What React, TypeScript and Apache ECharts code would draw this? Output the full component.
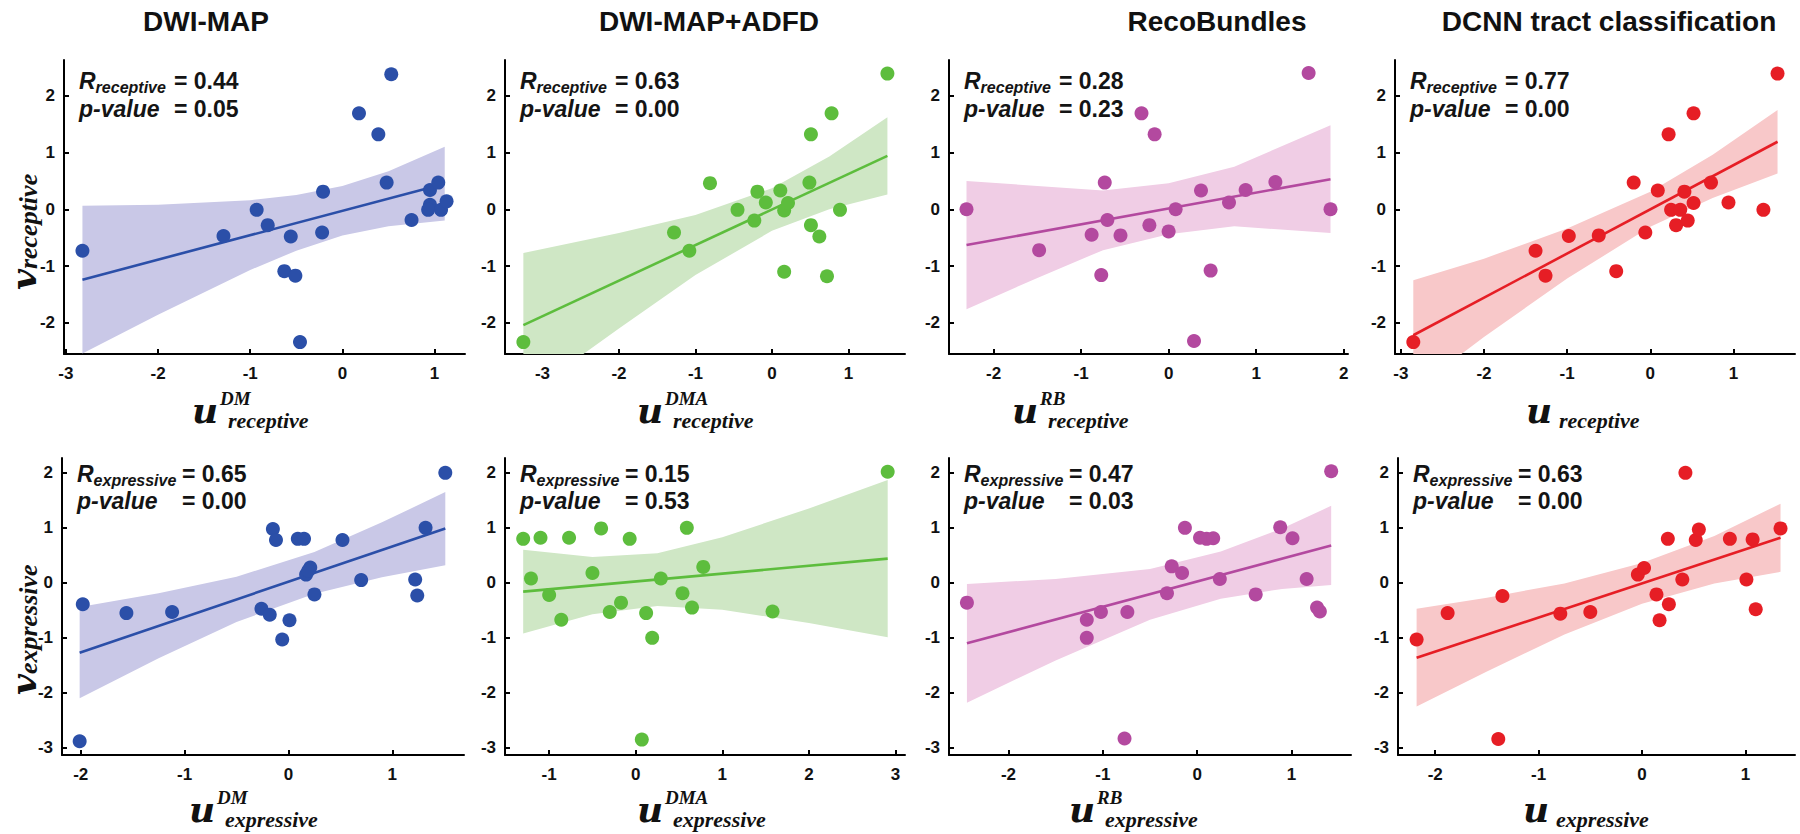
import React, { useEffect, useRef } from "react";
import * as echarts from "echarts";

const SANS = '"Liberation Sans", Arial, Helvetica, sans-serif';
const SERIF = '"Liberation Serif", "Times New Roman", serif';
const MATH = '"DejaVu Serif", "Liberation Serif", serif';

// ---------- text content ----------
const columnTitles = ["DWI-MAP", "DWI-MAP+ADFD", "RecoBundles", "DCNN tract classification"];
const methodSup = ["DM", "DMA", "RB", ""];
const rReceptive = ["0.44", "0.63", "0.28", "0.77"];
const pReceptive = ["0.05", "0.00", "0.23", "0.00"];
const rExpressive = ["0.65", "0.15", "0.47", "0.63"];
const pExpressive = ["0.00", "0.53", "0.03", "0.00"];

// ---------- colours ----------
const pointColors = ["#2b4fa8", "#5dbd3d", "#b3499f", "#e61e25"];
const bandColors = ["#c9c8e7", "#cfe7c5", "#f0cde5", "#f8c8c9"];

// ---------- tick values ----------
const recYTicks = [-2, -1, 0, 1, 2];
const expYTicks = [-3, -2, -1, 0, 1, 2];
const xTicks = [
  [-3, -2, -1, 0, 1],
  [-3, -2, -1, 0, 1],
  [-2, -1, 0, 1, 2],
  [-3, -2, -1, 0, 1],
  [-2, -1, 0, 1],
  [-1, 0, 1, 2, 3],
  [-2, -1, 0, 1],
  [-2, -1, 0, 1],
];

// ---------- scatter points [u, v] ----------
const recDM = [
  [-2.82, -0.73], [-1.29, -0.47], [-0.93, -0.01], [-0.81, -0.28], [-0.56, -0.48], [-0.63, -1.09],
  [-0.51, -1.17], [-0.46, -2.34], [-0.21, 0.31], [-0.22, -0.41], [0.18, 1.69], [0.39, 1.32],
  [0.53, 2.38], [0.48, 0.47], [0.75, -0.19], [0.95, 0.34], [1.04, 0.47], [0.95, 0.08],
  [0.93, -0.01], [1.07, -0.01], [1.13, 0.14],
];
const recDMA = [
  [-3.25, -2.34], [-1.28, -0.41], [-1.08, -0.73], [-0.81, 0.46], [-0.45, -0.01], [-0.23, -0.2],
  [-0.19, 0.31], [-0.08, 0.12], [0.11, 0.33], [0.16, -0.02], [0.21, 0.11], [0.16, -1.1],
  [0.49, 0.47], [0.51, 1.32], [0.51, -0.28], [0.62, -0.48], [0.72, -1.18], [0.78, 1.69],
  [0.89, -0.01], [1.51, 2.39],
];
const recRB = [
  [-2.31, 0.0], [-1.48, -0.72], [-0.88, -0.45], [-0.77, -1.16], [-0.73, 0.47], [-0.7, -0.19],
  [-0.55, -0.46], [-0.31, 1.69], [-0.22, -0.28], [-0.16, 1.32], [0.0, -0.39], [0.08, 0.0],
  [0.29, -2.32], [0.37, 0.33], [0.48, -1.08], [0.69, 0.12], [0.88, 0.34], [1.22, 0.48],
  [1.6, 2.4], [1.85, 0.0],
];
const recDCNN = [
  [-2.85, -2.34], [-1.38, -0.73], [-1.26, -1.17], [-0.98, -0.47], [-0.62, -0.46], [-0.41, -1.09],
  [-0.2, 0.47], [-0.06, -0.41], [0.09, 0.33], [0.22, 1.32], [0.25, -0.01], [0.31, -0.28],
  [0.36, -0.01], [0.41, 0.31], [0.45, -0.2], [0.52, 0.11], [0.52, 1.69], [0.73, 0.47],
  [0.94, 0.12], [1.36, -0.01], [1.53, 2.39],
];
const expDM = [
  [-1.98, -0.39], [-2.01, -2.88], [-1.56, -0.55], [-1.12, -0.53], [-0.26, -0.47], [-0.18, -0.58],
  [-0.15, 0.98], [-0.12, 0.78], [-0.06, -1.03], [0.01, -0.68], [0.09, 0.8], [0.15, 0.8],
  [0.17, 0.15], [0.21, 0.28], [0.19, 0.22], [0.25, -0.21], [0.52, 0.78], [0.7, 0.05],
  [1.22, 0.06], [1.24, -0.23], [1.32, 1.0], [1.51, 2.0],
];
const expDMA = [
  [-1.3, 0.8], [-1.21, 0.08], [-1.1, 0.82], [-1.0, -0.22], [-0.86, -0.67], [-0.77, 0.82],
  [-0.5, 0.18], [-0.4, 0.99], [-0.3, -0.53], [-0.17, -0.36], [-0.07, 0.8], [0.07, -2.85],
  [0.12, -0.55], [0.19, -1.0], [0.29, 0.08], [0.54, -0.19], [0.59, 1.0], [0.65, -0.45],
  [0.78, 0.29], [1.58, -0.52], [2.91, 2.02],
];
const expRB = [
  [-2.44, -0.36], [-1.17, -0.67], [-1.17, -1.0], [-1.02, -0.53], [-0.74, -0.53], [-0.77, -2.83],
  [-0.32, -0.19], [-0.27, 0.3], [-0.16, 0.18], [-0.13, 1.0], [0.03, 0.82], [0.1, 0.8],
  [0.17, 0.81], [0.24, 0.07], [0.62, -0.21], [0.88, 1.01], [1.01, 0.81], [1.16, 0.07],
  [1.27, -0.45], [1.3, -0.52], [1.42, 2.03],
];
const expDCNN = [
  [-2.18, -1.03], [-1.88, -0.55], [-1.35, -0.24], [-1.39, -2.84], [-0.79, -0.56], [-0.5, -0.53],
  [-0.04, 0.15], [0.02, 0.27], [0.14, -0.21], [0.17, -0.68], [0.25, 0.8], [0.26, -0.39],
  [0.39, 0.06], [0.42, 2.0], [0.52, 0.78], [0.55, 0.97], [0.85, 0.8], [1.01, 0.06],
  [1.07, 0.79], [1.1, -0.48], [1.34, 0.99],
];

// ---------- fitted lines (end points) ----------
const lineRecDM = [[-2.82, -1.24], [1.11, 0.45]];
const lineRecDMA = [[-3.25, -2.04], [1.51, 0.94]];
const lineRecRB = [[-2.31, -0.63], [1.85, 0.53]];
const lineRecDCNN = [[-2.85, -2.22], [1.53, 1.19]];
const lineExpDM = [[-2.01, -1.27], [1.51, 0.99]];
const lineExpDMA = [[-1.3, -0.16], [2.91, 0.44]];
const lineExpRB = [[-2.44, -1.1], [1.42, 0.68]];
const lineExpDCNN = [[-2.18, -1.36], [1.34, 0.82]];

// ---------- confidence bands (u, upper, lower) ----------
const bandRecDMx = [-2.82, -2, -1, -0.5, 0, 0.5, 1.11];
const bandRecDMup = [0.06, 0.08, 0.16, 0.25, 0.41, 0.67, 1.1];
const bandRecDMlo = [-2.54, -1.86, -1.07, -0.73, -0.46, -0.3, -0.2];
const bandRecDMAx = [-3.25, -2, -1, 0, 0.75, 1.51];
const bandRecDMAup = [-0.77, -0.42, -0.1, 0.37, 0.93, 1.62];
const bandRecDMAlo = [-3.31, -2.1, -1.16, -0.38, 0.0, 0.26];
const bandRecRBx = [-2.31, -1.5, -0.75, 0, 0.75, 1.85];
const bandRecRBup = [0.5, 0.41, 0.33, 0.46, 0.75, 1.48];
const bandRecRBlo = [-1.76, -1.21, -0.72, -0.44, -0.3, -0.42];
const bandRecDCNNx = [-2.85, -2, -1, 0, 0.75, 1.53];
const bandRecDCNNup = [-1.25, -0.87, -0.34, 0.31, 0.96, 1.75];
const bandRecDCNNlo = [-3.19, -2.25, -1.22, -0.31, 0.2, 0.63];
const bandExpDMx = [-2.01, -1.25, -0.5, 0.25, 0.9, 1.51];
const bandExpDMup = [-0.44, -0.19, 0.11, 0.56, 1.1, 1.65];
const bandExpDMlo = [-2.1, -1.37, -0.71, -0.2, 0.1, 0.32];
const bandExpDMAx = [-1.3, -0.5, 0.25, 1.0, 2.0, 2.91];
const bandExpDMAup = [0.6, 0.47, 0.54, 0.83, 1.35, 1.87];
const bandExpDMAlo = [-0.92, -0.57, -0.42, -0.49, -0.73, -0.99];
const bandExpRBx = [-2.44, -1.5, -0.5, 0.25, 0.9, 1.42];
const bandExpRBup = [-0.02, 0.07, 0.25, 0.57, 0.99, 1.4];
const bandExpRBlo = [-2.18, -1.41, -0.67, -0.29, -0.11, -0.04];
const bandExpDCNNx = [-2.18, -1.5, -0.75, 0, 0.7, 1.34];
const bandExpDCNNup = [-0.47, -0.27, -0.01, 0.36, 0.85, 1.44];
const bandExpDCNNlo = [-2.25, -1.61, -0.94, -0.38, -0.01, 0.2];

// ---------- axis extents ----------
const xMin = [-3.02, -3.49, -2.51, -3.07, -2.18, -1.51, -2.63, -2.36];
const xMax = [1.33, 1.74, 2.05, 1.74, 1.69, 3.11, 1.63, 1.48];
const rowYMin = [-2.55, -3.13];
const rowYMax = [2.63, 2.27];

// ---------- layout ----------
const gridLeft = [64, 505, 949, 1395, 62, 505, 949, 1398];
const gridWidth = [401, 400, 399, 400, 402, 400, 402, 397];
const rowTop = [60, 458];
const rowHeight = [294, 297];
const titleCenters = [206, 709, 1217, 1609];
const uLeft = [192, 637, 1012, 1526, 189, 637, 1069, 1523];

const panelPoints = [recDM, recDMA, recRB, recDCNN, expDM, expDMA, expRB, expDCNN];
const panelLines = [lineRecDM, lineRecDMA, lineRecRB, lineRecDCNN, lineExpDM, lineExpDMA, lineExpRB, lineExpDCNN];
const panelBands = [
  [bandRecDMx, bandRecDMup, bandRecDMlo],
  [bandRecDMAx, bandRecDMAup, bandRecDMAlo],
  [bandRecRBx, bandRecRBup, bandRecRBlo],
  [bandRecDCNNx, bandRecDCNNup, bandRecDCNNlo],
  [bandExpDMx, bandExpDMup, bandExpDMlo],
  [bandExpDMAx, bandExpDMAup, bandExpDMAlo],
  [bandExpRBx, bandExpRBup, bandExpRBlo],
  [bandExpDCNNx, bandExpDCNNup, bandExpDCNNlo],
];

function buildOption() {
  const grid: any[] = [];
  const xAxis: any[] = [];
  const yAxis: any[] = [];
  const series: any[] = [];
  const graphic: any[] = [];
  const labelStyle = { color: "#111", fontSize: 17, fontWeight: "bold", fontFamily: SANS };

  for (let i = 0; i < 8; i++) {
    const row = i < 4 ? 0 : 1;
    const col = i % 4;
    grid.push({
      left: gridLeft[i],
      top: rowTop[row],
      width: gridWidth[i],
      height: rowHeight[row],
      outerBoundsMode: "none",
      containLabel: false,
    });
    xAxis.push({
      type: "value",
      gridIndex: i,
      min: xMin[i],
      max: xMax[i],
      splitLine: { show: false },
      axisLine: { show: true, onZero: false, lineStyle: { color: "#000", width: 2 } },
      axisTick: { show: true, inside: true, length: 5, lineStyle: { color: "#000", width: 2 }, customValues: xTicks[i] },
      axisLabel: { ...labelStyle, margin: 11, customValues: xTicks[i] },
    });
    const yt = row === 0 ? recYTicks : expYTicks;
    yAxis.push({
      type: "value",
      gridIndex: i,
      min: rowYMin[row],
      max: rowYMax[row],
      splitLine: { show: false },
      axisLine: { show: true, onZero: false, lineStyle: { color: "#000", width: 2 } },
      axisTick: { show: true, inside: true, length: 5, lineStyle: { color: "#000", width: 2 }, customValues: yt },
      axisLabel: { ...labelStyle, margin: 9, customValues: yt },
    });

    const [bx, bup, blo] = panelBands[i];
    const fill = bandColors[col];
    series.push({
      type: "custom",
      xAxisIndex: i,
      yAxisIndex: i,
      clip: true,
      silent: true,
      z: 1,
      data: bx.map((x, k) => [x, bup[k], blo[k]]),
      encode: { x: 0, y: [1, 2] },
      renderItem: (params: any, api: any) => {
        if (params.dataIndex !== 0) return null;
        const up = bx.map((x, k) => api.coord([x, bup[k]]));
        const lo = bx.map((x, k) => api.coord([x, blo[k]])).reverse();
        return { type: "polygon", shape: { points: up.concat(lo) }, style: { fill } };
      },
    });
    series.push({
      type: "line",
      xAxisIndex: i,
      yAxisIndex: i,
      data: panelLines[i],
      symbol: "none",
      silent: true,
      z: 2,
      lineStyle: { color: pointColors[col], width: 2.6 },
    });
    series.push({
      type: "scatter",
      xAxisIndex: i,
      yAxisIndex: i,
      data: panelPoints[i],
      symbolSize: 14,
      z: 3,
      itemStyle: { color: pointColors[col], opacity: 1 },
    });

    // statistics annotation
    const sub = row === 0 ? "receptive" : "expressive";
    const rVal = row === 0 ? rReceptive[col] : rExpressive[col];
    const pVal = row === 0 ? pReceptive[col] : pExpressive[col];
    const rBase = row === 0 ? 89 : 482;
    const pBase = row === 0 ? 117 : 509;
    const eqOff = row === 0 ? 110 : 120;
    const ink = "#141414";
    const rich = {
      r: { fontSize: 23, fontStyle: "italic", fontWeight: "bold", fontFamily: SANS, lineHeight: 28, fill: ink },
      s: { fontSize: 16, fontStyle: "italic", fontWeight: "bold", fontFamily: SANS, verticalAlign: "bottom", fill: ink },
      n: { fontSize: 23, fontWeight: "bold", fontFamily: SANS, lineHeight: 28, fill: ink },
    };
    const noteX = gridLeft[i] + 15;
    graphic.push(
      { type: "text", x: noteX, y: rBase - 22, z: 50, silent: true,
        style: { text: `{r|R}{s|${sub}}`, rich, align: "left", verticalAlign: "top" } },
      { type: "text", x: gridLeft[i] + eqOff, y: rBase - 22, z: 50, silent: true,
        style: { text: `{n|= ${rVal}}`, rich, align: "left", verticalAlign: "top" } },
      { type: "text", x: noteX, y: pBase - 22, z: 50, silent: true,
        style: { text: `{r|p-value}`, rich, align: "left", verticalAlign: "top" } },
      { type: "text", x: gridLeft[i] + eqOff, y: pBase - 22, z: 50, silent: true,
        style: { text: `{n|= ${pVal}}`, rich, align: "left", verticalAlign: "top" } },
    );

    // x-axis title: u with superscript method and subscript task
    const uBase = row === 0 ? 422 : 821;
    const supBase = uBase - 17;
    const subBase = uBase + 6;
    const ul = uLeft[i];
    const subOff = methodSup[col] ? 36 : 33;
    graphic.push(
      { type: "text", x: ul, y: uBase - 0.345 * 36, silent: true,
        style: { text: "u", fontSize: 36, fontStyle: "italic", fontWeight: "bold", fontFamily: MATH, fill: "#111", align: "left", verticalAlign: "middle" } },
      { type: "text", x: ul + subOff, y: subBase - 0.34 * 22, silent: true,
        style: { text: sub, fontSize: 22, fontStyle: "italic", fontWeight: "bold", fontFamily: SERIF, fill: "#111", align: "left", verticalAlign: "middle" } },
    );
    if (methodSup[col]) {
      graphic.push({ type: "text", x: ul + 28, y: supBase - 0.34 * 19, silent: true,
        style: { text: methodSup[col], fontSize: 19, fontStyle: "italic", fontWeight: "bold", fontFamily: SERIF, fill: "#111", align: "left", verticalAlign: "middle" } });
    }
  }

  // column titles
  columnTitles.forEach((t, c) => {
    graphic.push({ type: "text", x: titleCenters[c], y: 21, silent: true,
      style: { text: t, fontSize: 28, fontWeight: "bold", fontFamily: SANS, fill: "#111", align: "center", verticalAlign: "middle" } });
  });

  // y-axis titles (rotated)
  const vRich = {
    v: { fontSize: 36, fontStyle: "italic", fontWeight: "bold", fontFamily: MATH, lineHeight: 36, fill: "#111" },
    s: { fontSize: 26, fontStyle: "italic", fontWeight: "bold", fontFamily: SERIF, verticalAlign: "bottom", fill: "#111" },
  };
  graphic.push(
    { type: "text", x: 23, y: 290, rotation: Math.PI / 2, silent: true,
      style: { text: "{v|v}{s|receptive}", rich: vRich, align: "left", verticalAlign: "middle" } },
    { type: "text", x: 23, y: 695, rotation: Math.PI / 2, silent: true,
      style: { text: "{v|v}{s|expressive}", rich: vRich, align: "left", verticalAlign: "middle" } },
  );

  return {
    animation: false,
    backgroundColor: "#ffffff",
    grid,
    xAxis,
    yAxis,
    series,
    graphic,
  };
}

export default function App() {
  const ref = useRef<HTMLDivElement>(null);
  useEffect(() => {
    const chart = echarts.init(ref.current as HTMLDivElement, null, { renderer: "svg" });
    chart.setOption(buildOption() as any);
    return () => chart.dispose();
  }, []);
  return (
    <div
      ref={ref}
      style={{ position: "absolute", left: 0, top: 0, width: 1800, height: 834, background: "#fff" }}
    />
  );
}
